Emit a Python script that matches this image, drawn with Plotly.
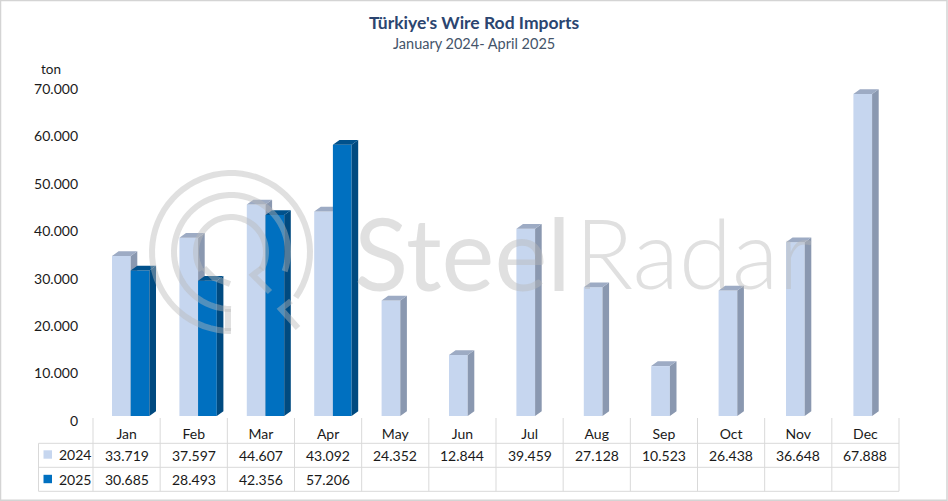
import math
import plotly.graph_objects as go

months = ["Jan", "Feb", "Mar", "Apr", "May", "Jun", "Jul", "Aug", "Sep", "Oct", "Nov", "Dec"]
imports_2024 = [33719, 37597, 44607, 43092, 24352, 12844, 39459, 27128, 10523, 26438, 36648, 67888]
imports_2025 = [30685, 28493, 42356, 57206]
y_ticks = [0, 10000, 20000, 30000, 40000, 50000, 60000, 70000]

W, H = 948, 501
FONT = "Lato"
INK = "#1a1a1a"
RULE = "#d9d9d9"

# plot area in pixels
PL, PR, PT, PB = 93.0, 899.0, 84.0, 416.0
X_UNIT = (PR - PL) / 12
Y_MAX = 70000
Y_UNIT = (PB - PT) / Y_MAX


def px(p):
    return p / W


def py(p):
    return 1 - p / H


# bar geometry in pixels, converted to axis units
BAR_W = 18.7 / X_UNIT
STEP = 67.4 / X_UNIT
FIRST_LEFT = (112.0 - PL) / X_UNIT - 0.5
DX = 6.6 / X_UNIT
DY = 4.8 / Y_UNIT


def series_traces(values, slot, front, side, cap, name, xa, ya):
    lefts = [FIRST_LEFT + STEP * i + BAR_W * slot for i in range(len(values))]
    centers = [l + BAR_W / 2 for l in lefts]
    sx, sy, cx, cy = [], [], [], []
    for l, v in zip(lefts, values):
        r = l + BAR_W
        sx += [r, r + DX, r + DX, r, r, None]
        sy += [0, DY, v + DY, v, 0, None]
        cx += [l, l + DX, r + DX, r, l, None]
        cy += [v, v + DY, v + DY, v, v, None]
    common = dict(mode="lines", line=dict(width=0), fill="toself", hoverinfo="skip",
                  showlegend=False, xaxis=xa, yaxis=ya, cliponaxis=False)
    return [
        go.Bar(x=centers, y=values, width=BAR_W, marker=dict(color=front, line=dict(width=0)),
               name=name, xaxis=xa, yaxis=ya, showlegend=False),
        go.Scatter(x=sx, y=sy, fillcolor=side, **common),
        go.Scatter(x=cx, y=cy, fillcolor=cap, **common),
    ]


fig = go.Figure()
fig.add_traces(series_traces(imports_2024, 0, "#c6d6ef", "#8a98b0", "#9dabc4", "2024", "x", "y"))
fig.add_traces(series_traces(imports_2025, 1, "#0070c0", "#004a80", "#00518c", "2025", "x2", "y2"))

annotations = []
shapes = []


def text(s, x, y, size=14, color=INK, anchor="center", weight=None, family=FONT):
    f = dict(family=family, size=size, color=color)
    if weight:
        f["weight"] = weight
    annotations.append(dict(text=s, x=px(x), y=py(y), xref="paper", yref="paper", xanchor=anchor,
                            yanchor="middle", showarrow=False, font=f))


def hline(x0, x1, y):
    shapes.append(dict(type="line", xref="paper", yref="paper", x0=px(x0), x1=px(x1), y0=py(y), y1=py(y),
                       line=dict(color=RULE, width=1), layer="below"))


def vline(x, y0, y1):
    shapes.append(dict(type="line", xref="paper", yref="paper", x0=px(x), x1=px(x), y0=py(y0), y1=py(y1),
                       line=dict(color=RULE, width=1), layer="below"))


# titles
text("Türkiye's Wire Rod Imports", 474.5, 23, size=17.5, color="#2b4570", weight=700)
text("January 2024- April 2025", 474, 44, size=14.5, color="#44546a")
text("ton", 51, 69, size=13.5)

# data table
ROW_Y = [443.3, 467.3, 491.3]
for y in ROW_Y:
    hline(38.5, PR, y)
vline(38.5, ROW_Y[0], ROW_Y[2])
for i in range(13):
    vline(PL + X_UNIT * i, 418, ROW_Y[2])
fmt = lambda v: f"{v:,}".replace(",", ".")
for i, v in enumerate(imports_2024):
    text(fmt(v), PL + X_UNIT * (i + 0.5), 455)
for i, v in enumerate(imports_2025):
    text(fmt(v), PL + X_UNIT * (i + 0.5), 479.5)
for label, y, color in (("2024", 454.5, "#c6d6ef"), ("2025", 479, "#0070c0")):
    text(label, 56.5, y, anchor="left")
    shapes.append(dict(type="rect", xref="paper", yref="paper", x0=px(43.5), x1=px(52), y0=py(y - 4.2), y1=py(y + 4.2),
                       fillcolor=color, line=dict(width=0), layer="below"))

# frame
shapes.append(dict(type="rect", xref="paper", yref="paper", x0=px(0.5), x1=px(947), y0=py(0.5), y1=py(500.3),
                   line=dict(color="#d4d4d4", width=1.5), layer="below"))

# watermark
WM = "rgba(185,185,185,0.44)"
text("Steel", 352, 252, size=100, color=WM, anchor="left", weight=400)
text("Radar", 573, 252, size=96, color=WM, anchor="left", weight=300)


def arc_path(cx, cy, r, a0, a1, n=60):
    pts = []
    for k in range(n + 1):
        a = math.radians(a0 + (a1 - a0) * k / n)
        pts.append((cx + r * math.cos(a), cy + r * math.sin(a)))
    return pts


def stroke(pts, width=6):
    d = "M " + " L ".join(f"{px(x):.5f},{py(y):.5f}" for x, y in pts)
    shapes.append(dict(type="path", path=d, xref="paper", yref="paper", layer="above",
                       line=dict(color=WM, width=width)))


CX, CY = 231, 252
stroke(arc_path(CX, CY, 79, 90, 395))  # outer ring
stroke(arc_path(CX, CY, 57, 90, 395)[:-3])  # second ring
stroke([(228, 331), (228, 309)])
stroke(arc_path(CX, CY, 35, 148, 390))  # inner ring
stroke([(262, 268), (253, 275), (270, 292)])
stroke([(204, 268), (214, 278), (230, 284)])
stroke([(298, 328), (281, 309), (291, 301)])

ax_common = dict(range=[-0.5, 11.5], domain=[px(PL), px(PR)], showgrid=False, zeroline=False,
                 showline=False, ticks="", fixedrange=True)
yax_common = dict(range=[0, Y_MAX], domain=[py(PB), py(PT)], showgrid=False, zeroline=False,
                  showline=False, ticks="", fixedrange=True)

fig.update_layout(
    width=W, height=H, margin=dict(l=0, r=0, t=0, b=0, autoexpand=False), autosize=False,
    paper_bgcolor="white", plot_bgcolor="rgba(0,0,0,0)", showlegend=False,
    barmode="overlay", separators=",.",
    annotations=annotations, shapes=shapes,
    xaxis=dict(**ax_common, tickmode="array", tickvals=list(range(12)), ticktext=months,
               tickfont=dict(family=FONT, size=14, color=INK), ticklabelstandoff=8, automargin=False),
    yaxis=dict(**yax_common, tickmode="array", tickvals=y_ticks, tickformat=",d",
               tickfont=dict(family=FONT, size=14, color=INK), ticklabelstandoff=14, ticklabelshift=5, automargin=False),
    xaxis2=dict(**ax_common, overlaying="x", anchor="y2", showticklabels=False),
    yaxis2=dict(**yax_common, overlaying="y", anchor="x2", showticklabels=False),
)

fig.write_html("out.html", config={"displayModeBar": False, "responsive": False},
               post_script="document.documentElement.style.margin='0';document.body.style.margin='0';document.body.style.overflow='hidden';")
